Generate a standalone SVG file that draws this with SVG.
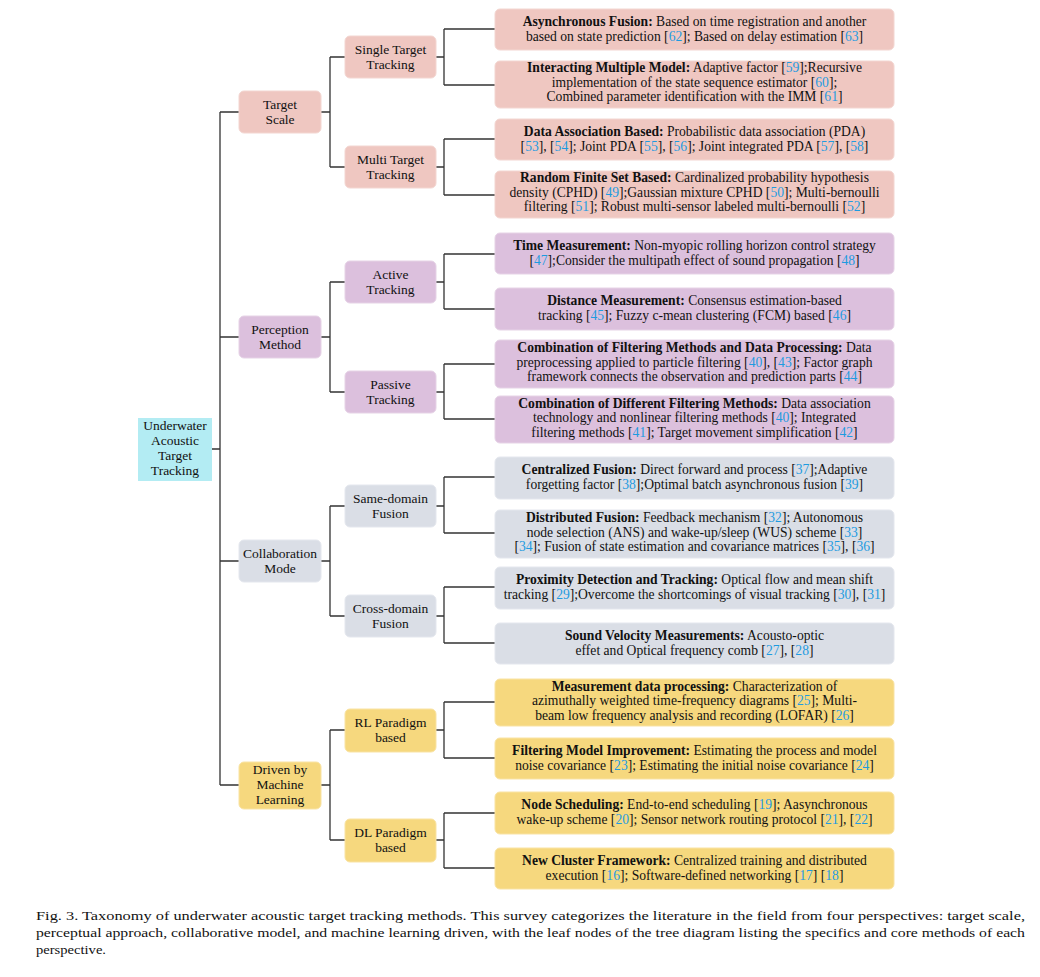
<svg xmlns="http://www.w3.org/2000/svg" width="1040" height="977" viewBox="0 0 1040 977">
<style>
text{font-family:"Liberation Serif","Times New Roman",serif;fill:#111;}
.n{font-size:13.5px;text-anchor:middle;}
.l{font-size:13.6px;text-anchor:middle;}
.b{font-weight:bold;}
.c{fill:#1e9be0;}
.cap{font-size:13px;}
.pk{fill:#efc7c1;stroke:#f3d6d1;stroke-width:1;}
.pu{fill:#dcc0dd;stroke:#e6d3e6;stroke-width:1;}
.gy{fill:#dadee6;stroke:#e4e7ee;stroke-width:1;}
.ye{fill:#f6d87e;stroke:#f9e3a3;stroke-width:1;}
.rt{fill:#b3ecf3;}
.w{fill:none;stroke:#333;stroke-width:1.3;}
</style>
<rect width="1040" height="977" fill="#fff"/>
<g id="connectors">
<path class="w" d="M212,449H220M220,112V785M220,112H239M220,337H239M220,561H239M220,785H239" />
<path class="w" d="M321,112H330M330,57V167M330,57H345M330,167H345"/>
<path class="w" d="M321,337H330M330,282V392M330,282H345M330,392H345"/>
<path class="w" d="M321,561H330M330,506V616M330,506H345M330,616H345"/>
<path class="w" d="M321,785H330M330,730V840M330,730H345M330,840H345"/>
<path class="w" d="M436,57H444M444,29V85M444,29H495M444,85H495"/>
<path class="w" d="M436,167H444M444,139V195M444,139H495M444,195H495"/>
<path class="w" d="M436,282H444M444,254V309M444,254H495M444,309H495"/>
<path class="w" d="M436,392H444M444,364V419M444,364H495M444,419H495"/>
<path class="w" d="M436,506H444M444,477V533M444,477H495M444,533H495"/>
<path class="w" d="M436,616H444M444,587V643M444,587H495M444,643H495"/>
<path class="w" d="M436,730H444M444,702V758M444,702H495M444,758H495"/>
<path class="w" d="M436,840H444M444,813V868M444,813H495M444,868H495"/>
</g>
<g id="root"><rect class="rt" x="138" y="418" width="74" height="63"/>
<text class="n" x="175" y="430">Underwater</text><text class="n" x="175" y="445">Acoustic</text><text class="n" x="175" y="460">Target</text><text class="n" x="175" y="475">Tracking</text></g>
<g id="target-scale"><rect class="pk" x="239" y="91" width="82" height="42" rx="5"/>
<text class="n" x="280" y="109">Target</text><text class="n" x="280" y="124">Scale</text></g>
<g id="perception-method"><rect class="pu" x="239" y="316" width="82" height="42" rx="5"/>
<text class="n" x="280" y="334">Perception</text><text class="n" x="280" y="349">Method</text></g>
<g id="collaboration-mode"><rect class="gy" x="239" y="540" width="82" height="42" rx="5"/>
<text class="n" x="280" y="558">Collaboration</text><text class="n" x="280" y="573">Mode</text></g>
<g id="driven-ml"><rect class="ye" x="239" y="762" width="82" height="47" rx="5"/>
<text class="n" x="280" y="774">Driven by</text><text class="n" x="280" y="789">Machine</text><text class="n" x="280" y="804">Learning</text></g>
<g id="single-target"><rect class="pk" x="345" y="36" width="91" height="42" rx="5"/>
<text class="n" x="390.5" y="54">Single Target</text><text class="n" x="390.5" y="69">Tracking</text></g>
<g id="multi-target"><rect class="pk" x="345" y="146" width="91" height="42" rx="5"/>
<text class="n" x="390.5" y="164">Multi Target</text><text class="n" x="390.5" y="179">Tracking</text></g>
<g id="active-tracking"><rect class="pu" x="345" y="261" width="91" height="42" rx="5"/>
<text class="n" x="390.5" y="279">Active</text><text class="n" x="390.5" y="294">Tracking</text></g>
<g id="passive-tracking"><rect class="pu" x="345" y="371" width="91" height="42" rx="5"/>
<text class="n" x="390.5" y="389">Passive</text><text class="n" x="390.5" y="404">Tracking</text></g>
<g id="same-domain"><rect class="gy" x="345" y="485" width="91" height="42" rx="5"/>
<text class="n" x="390.5" y="503">Same-domain</text><text class="n" x="390.5" y="518">Fusion</text></g>
<g id="cross-domain"><rect class="gy" x="345" y="595" width="91" height="42" rx="5"/>
<text class="n" x="390.5" y="613">Cross-domain</text><text class="n" x="390.5" y="628">Fusion</text></g>
<g id="rl-paradigm"><rect class="ye" x="345" y="709" width="91" height="43" rx="5"/>
<text class="n" x="390.5" y="727">RL Paradigm</text><text class="n" x="390.5" y="742">based</text></g>
<g id="dl-paradigm"><rect class="ye" x="345" y="819" width="91" height="43" rx="5"/>
<text class="n" x="390.5" y="837">DL Paradigm</text><text class="n" x="390.5" y="852">based</text></g>

<g id="leaf1"><rect class="pk" x="495" y="9" width="399" height="41" rx="5"/>
<text class="l" x="694.5" y="26"><tspan class="b">Asynchronous Fusion:</tspan> Based on time registration and another</text>
<text class="l" x="694.5" y="41">based on state prediction [<tspan class="c">62</tspan>]; Based on delay estimation [<tspan class="c">63</tspan>]</text></g>
<g id="leaf2"><rect class="pk" x="495" y="61" width="399" height="47" rx="5"/>
<text class="l" x="694.5" y="72"><tspan class="b">Interacting Multiple Model:</tspan> Adaptive factor [<tspan class="c">59</tspan>];Recursive</text>
<text class="l" x="694.5" y="86.5">implementation of the state sequence estimator [<tspan class="c">60</tspan>];</text>
<text class="l" x="694.5" y="101">Combined parameter identification with the IMM [<tspan class="c">61</tspan>]</text></g>
<g id="leaf3"><rect class="pk" x="495" y="119" width="399" height="41" rx="5"/>
<text class="l" x="694.5" y="136"><tspan class="b">Data Association Based:</tspan> Probabilistic data association (PDA)</text>
<text class="l" x="694.5" y="151">[<tspan class="c">53</tspan>], [<tspan class="c">54</tspan>]; Joint PDA [<tspan class="c">55</tspan>], [<tspan class="c">56</tspan>]; Joint integrated PDA [<tspan class="c">57</tspan>], [<tspan class="c">58</tspan>]</text></g>
<g id="leaf4"><rect class="pk" x="495" y="171" width="399" height="47" rx="5"/>
<text class="l" x="694.5" y="182"><tspan class="b">Random Finite Set Based:</tspan> Cardinalized probability hypothesis</text>
<text class="l" x="694.5" y="196.5">density (CPHD) [<tspan class="c">49</tspan>];Gaussian mixture CPHD [<tspan class="c">50</tspan>]; Multi-bernoulli</text>
<text class="l" x="694.5" y="211">filtering [<tspan class="c">51</tspan>]; Robust multi-sensor labeled multi-bernoulli [<tspan class="c">52</tspan>]</text></g>
<g id="leaf5"><rect class="pu" x="495" y="233" width="399" height="41" rx="5"/>
<text class="l" x="694.5" y="250"><tspan class="b">Time Measurement:</tspan> Non-myopic rolling horizon control strategy</text>
<text class="l" x="694.5" y="265">[<tspan class="c">47</tspan>];Consider the multipath effect of sound propagation [<tspan class="c">48</tspan>]</text></g>
<g id="leaf6"><rect class="pu" x="495" y="288" width="399" height="42" rx="5"/>
<text class="l" x="694.5" y="305"><tspan class="b">Distance Measurement:</tspan> Consensus estimation-based</text>
<text class="l" x="694.5" y="320">tracking [<tspan class="c">45</tspan>]; Fuzzy c-mean clustering (FCM) based [<tspan class="c">46</tspan>]</text></g>
<g id="leaf7"><rect class="pu" x="495" y="340" width="399" height="48" rx="5"/>
<text class="l" x="694.5" y="352"><tspan class="b">Combination of Filtering Methods and Data Processing:</tspan> Data</text>
<text class="l" x="694.5" y="366.5">preprocessing applied to particle filtering [<tspan class="c">40</tspan>], [<tspan class="c">43</tspan>]; Factor graph</text>
<text class="l" x="694.5" y="381">framework connects the observation and prediction parts [<tspan class="c">44</tspan>]</text></g>
<g id="leaf8"><rect class="pu" x="495" y="396" width="399" height="47" rx="5"/>
<text class="l" x="694.5" y="407.5"><tspan class="b">Combination of Different Filtering Methods:</tspan> Data association</text>
<text class="l" x="694.5" y="422">technology and nonlinear filtering methods [<tspan class="c">40</tspan>]; Integrated</text>
<text class="l" x="694.5" y="436.5">filtering methods [<tspan class="c">41</tspan>]; Target movement simplification [<tspan class="c">42</tspan>]</text></g>
<g id="leaf9"><rect class="gy" x="495" y="457" width="399" height="42" rx="5"/>
<text class="l" x="694.5" y="474"><tspan class="b">Centralized Fusion:</tspan> Direct forward and process [<tspan class="c">37</tspan>];Adaptive</text>
<text class="l" x="694.5" y="489">forgetting factor [<tspan class="c">38</tspan>];Optimal batch asynchronous fusion [<tspan class="c">39</tspan>]</text></g>
<g id="leaf10"><rect class="gy" x="495" y="510" width="399" height="48" rx="5"/>
<text class="l" x="694.5" y="522"><tspan class="b">Distributed Fusion:</tspan> Feedback mechanism [<tspan class="c">32</tspan>]; Autonomous</text>
<text class="l" x="694.5" y="536.5">node selection (ANS) and wake-up/sleep (WUS) scheme [<tspan class="c">33</tspan>]</text>
<text class="l" x="694.5" y="551">[<tspan class="c">34</tspan>]; Fusion of state estimation and covariance matrices [<tspan class="c">35</tspan>], [<tspan class="c">36</tspan>]</text></g>
<g id="leaf11"><rect class="gy" x="495" y="567" width="399" height="42" rx="5"/>
<text class="l" x="694.5" y="584"><tspan class="b">Proximity Detection and Tracking:</tspan> Optical flow and mean shift</text>
<text class="l" x="694.5" y="599">tracking [<tspan class="c">29</tspan>];Overcome the shortcomings of visual tracking [<tspan class="c">30</tspan>], [<tspan class="c">31</tspan>]</text></g>
<g id="leaf12"><rect class="gy" x="495" y="623" width="399" height="41" rx="5"/>
<text class="l" x="694.5" y="640"><tspan class="b">Sound Velocity Measurements:</tspan> Acousto-optic</text>
<text class="l" x="694.5" y="655">effet and Optical frequency comb [<tspan class="c">27</tspan>], [<tspan class="c">28</tspan>]</text></g>
<g id="leaf13"><rect class="ye" x="495" y="679" width="399" height="47" rx="5"/>
<text class="l" x="694.5" y="690.5"><tspan class="b">Measurement data processing:</tspan> Characterization of</text>
<text class="l" x="694.5" y="705">azimuthally weighted time-frequency diagrams [<tspan class="c">25</tspan>]; Multi-</text>
<text class="l" x="694.5" y="719.5">beam low frequency analysis and recording (LOFAR) [<tspan class="c">26</tspan>]</text></g>
<g id="leaf14"><rect class="ye" x="495" y="738" width="399" height="41" rx="5"/>
<text class="l" x="694.5" y="755"><tspan class="b">Filtering Model Improvement:</tspan> Estimating the process and model</text>
<text class="l" x="694.5" y="770">noise covariance [<tspan class="c">23</tspan>]; Estimating the initial noise covariance [<tspan class="c">24</tspan>]</text></g>
<g id="leaf15"><rect class="ye" x="495" y="792" width="399" height="42" rx="5"/>
<text class="l" x="694.5" y="809"><tspan class="b">Node Scheduling:</tspan> End-to-end scheduling [<tspan class="c">19</tspan>]; Aasynchronous</text>
<text class="l" x="694.5" y="824">wake-up scheme [<tspan class="c">20</tspan>]; Sensor network routing protocol [<tspan class="c">21</tspan>], [<tspan class="c">22</tspan>]</text></g>
<g id="leaf16"><rect class="ye" x="495" y="848" width="399" height="41" rx="5"/>
<text class="l" x="694.5" y="865"><tspan class="b">New Cluster Framework:</tspan> Centralized training and distributed</text>
<text class="l" x="694.5" y="880">execution [<tspan class="c">16</tspan>]; Software-defined networking [<tspan class="c">17</tspan>] [<tspan class="c">18</tspan>]</text></g>

<g id="caption">
<text class="cap" x="36" y="920" textLength="989" lengthAdjust="spacingAndGlyphs">Fig. 3.  Taxonomy of underwater acoustic target tracking methods. This survey categorizes the literature in the field from four perspectives: target scale,</text>
<text class="cap" x="36" y="937" textLength="989" lengthAdjust="spacingAndGlyphs">perceptual approach, collaborative model, and machine learning driven, with the leaf nodes of the tree diagram listing the specifics and core methods of each</text>
<text class="cap" x="36" y="954" textLength="70" lengthAdjust="spacingAndGlyphs">perspective.</text>
</g>
</svg>
